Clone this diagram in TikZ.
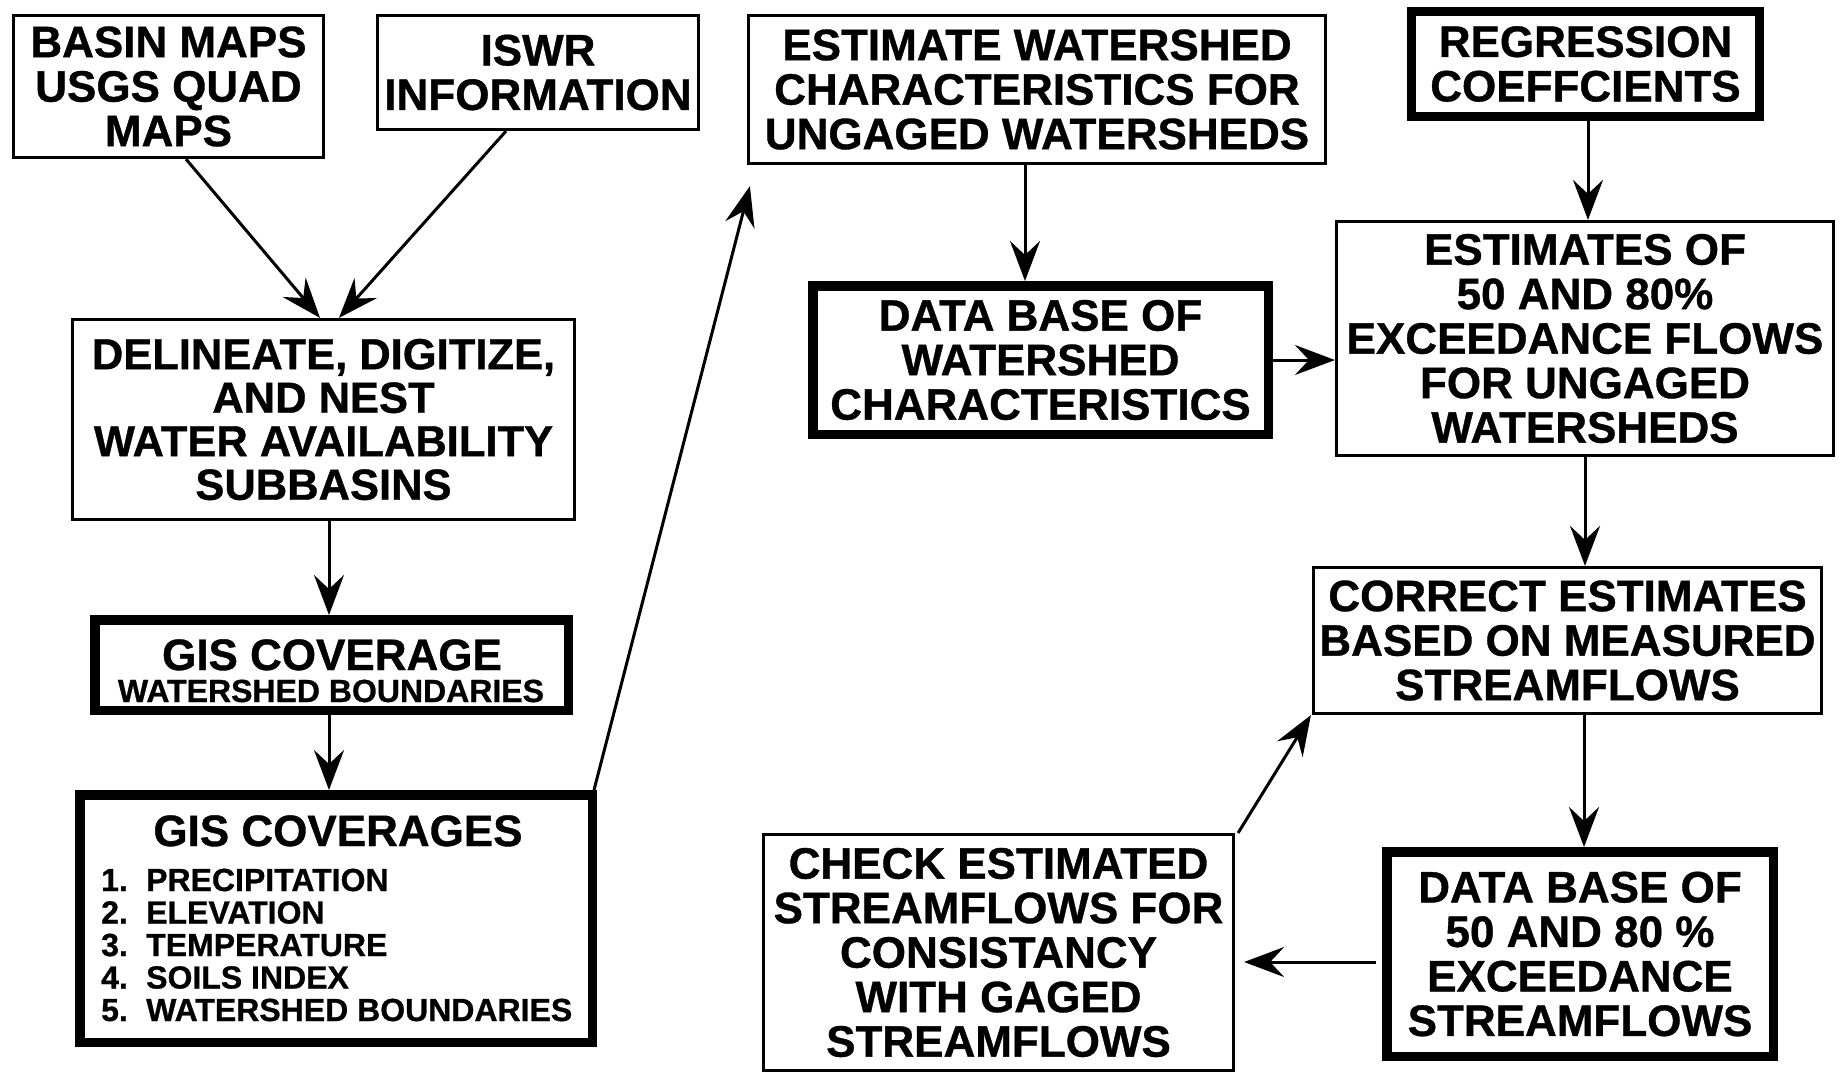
\documentclass[tikz,border=0pt]{standalone}
\usepackage{fontspec}
\setmainfont{Liberation Sans}[BoldFeatures={FakeBold=0.8}]
\usetikzlibrary{arrows.meta,calc}
\begin{document}
\begin{tikzpicture}[x=1pt,y=-1pt,
  box/.style={draw, line width=3.2pt, inner sep=0pt, align=center},
  heavybox/.style={draw, line width=9.5pt, inner sep=0pt, align=center},
  label/.style={font=\bfseries\fontsize{44}{44.5}\selectfont},
  wide/.style={font=\bfseries\fontsize{43.5}{43.5}\selectfont},
  % lowers the text block of a box by half the given strut excess
  lower/.style={execute at begin node={\rule{0pt}{#1}}},
  listfont/.style={font=\bfseries\fontsize{32}{32}\selectfont, inner sep=0pt, anchor=base west},
  flow/.style={line width=3pt, -{Stealth[length=40pt,width=30pt,inset=14pt]}},
]
\fill[white] (0,0) rectangle (1844,1072);
\useasboundingbox (0,0) rectangle (1844,1072);

% left column
\node[box,label,lower=43pt,minimum width=310pt,minimum height=142pt] (basin) at (168.5,86.5) {BASIN MAPS\\USGS QUAD\\MAPS};
\node[box,label,lower=41pt,minimum width=321pt,minimum height=114pt] (iswr) at (538,72.5) {ISWR\\INFORMATION};
\node[box,wide,minimum width=502pt,minimum height=200pt] (delin) at (323.5,419.5) {DELINEATE, DIGITIZE,\\AND NEST\\WATER AVAILABILITY\\SUBBASINS};

\node[heavybox,minimum width=473.5pt,minimum height=90.5pt] (giscov) at (331.5,665) {};
\node[font=\bfseries\fontsize{44}{44}\selectfont, anchor=base, inner sep=0pt] (giscovtitle) at (332,670) {GIS COVERAGE};
\node[font=\bfseries\fontsize{32}{32}\selectfont, anchor=base, inner sep=0pt] (giscovsub) at (331,702) {WATERSHED BOUNDARIES};

\node[heavybox,minimum width=512.5pt,minimum height=247.5pt] (giscovs) at (336,918.5) {};
\node[font=\bfseries\fontsize{44}{44}\selectfont, anchor=base, inner sep=0pt] (giscovstitle) at (338,846) {GIS COVERAGES};
\foreach \i/\t in {1/PRECIPITATION,2/ELEVATION,3/TEMPERATURE,4/SOILS INDEX,5/WATERSHED BOUNDARIES} {
  \node[listfont] (num\i) at (101,858.5+32.5*\i) {\i.};
  \node[listfont] (item\i) at (146,858.5+32.5*\i) {\t};
}

% middle column
\node[box,label,minimum width=577pt,minimum height=148pt] (estw) at (1037,89.5) {ESTIMATE WATERSHED\\CHARACTERISTICS FOR\\UNGAGED WATERSHEDS};
\node[heavybox,label,minimum width=455.5pt,minimum height=148.5pt] (dbw) at (1040.5,360) {DATA BASE OF\\WATERSHED\\CHARACTERISTICS};
\node[box,label,lower=46pt,minimum width=470pt,minimum height=236pt] (check) at (998.5,952.5) {CHECK ESTIMATED\\STREAMFLOWS FOR\\CONSISTANCY\\WITH GAGED\\STREAMFLOWS};

% right column
\node[draw,line width=8pt,inner sep=0pt,align=center,label,lower=41pt,minimum width=349pt,minimum height=106pt] (regr) at (1585.5,64) {REGRESSION\\COEFFCIENTS};
\draw[line width=2pt] ([xshift=8pt,yshift=-8pt]regr.north west) rectangle ([xshift=-8pt,yshift=8pt]regr.south east);
\node[box,label,minimum width=497pt,minimum height=234pt] (est50) at (1585,338.5) {ESTIMATES OF\\50 AND 80\%\\EXCEEDANCE FLOWS\\FOR UNGAGED\\WATERSHEDS};
\node[box,label,minimum width=508pt,minimum height=146pt] (correct) at (1567.5,640.5) {CORRECT ESTIMATES\\BASED ON MEASURED\\STREAMFLOWS};
\node[heavybox,label,minimum width=386.5pt,minimum height=204.5pt] (db50) at (1580,954) {DATA BASE OF\\50 AND 80 \%\\EXCEEDANCE\\STREAMFLOWS};

% connectors
\draw[flow] ([xshift=17.5pt]basin.south) -- ([xshift=-3.5pt]delin.north);
\draw[flow] ([xshift=-32pt]iswr.south) -- ([xshift=15.5pt]delin.north);
\draw[flow] ([xshift=5.5pt]delin.south) -- ([xshift=5.5pt]delin.south |- giscov.north);
\draw[flow] ([xshift=-2.5pt]giscov.south) -- ([xshift=-2.5pt]giscov.south |- giscovs.north);
\draw[flow] ([xshift=-3pt]giscovs.north east) -- ([xshift=3pt,yshift=-21pt]estw.south west);
\draw[flow] ([xshift=-12pt]estw.south) -- ([xshift=-12pt]estw.south |- dbw.north);
\draw[flow] (dbw.east) -- (dbw.east -| est50.west);
\draw[flow] ([xshift=2.5pt]regr.south) -- ([xshift=2.5pt]regr.south |- est50.north);
\draw[flow] (est50.south) -- (est50.south |- correct.north);
\draw[flow] ([xshift=16.5pt]correct.south) -- ([xshift=16.5pt]correct.south |- db50.north);
\draw[flow, shorten <=6pt, shorten >=9pt] ([yshift=-8pt]db50.west) -- ([yshift=-8pt]db50.west -| check.east);
\draw[flow] ([xshift=3pt]check.north east) -- ([xshift=-1pt]correct.south west);
\end{tikzpicture}
\end{document}
